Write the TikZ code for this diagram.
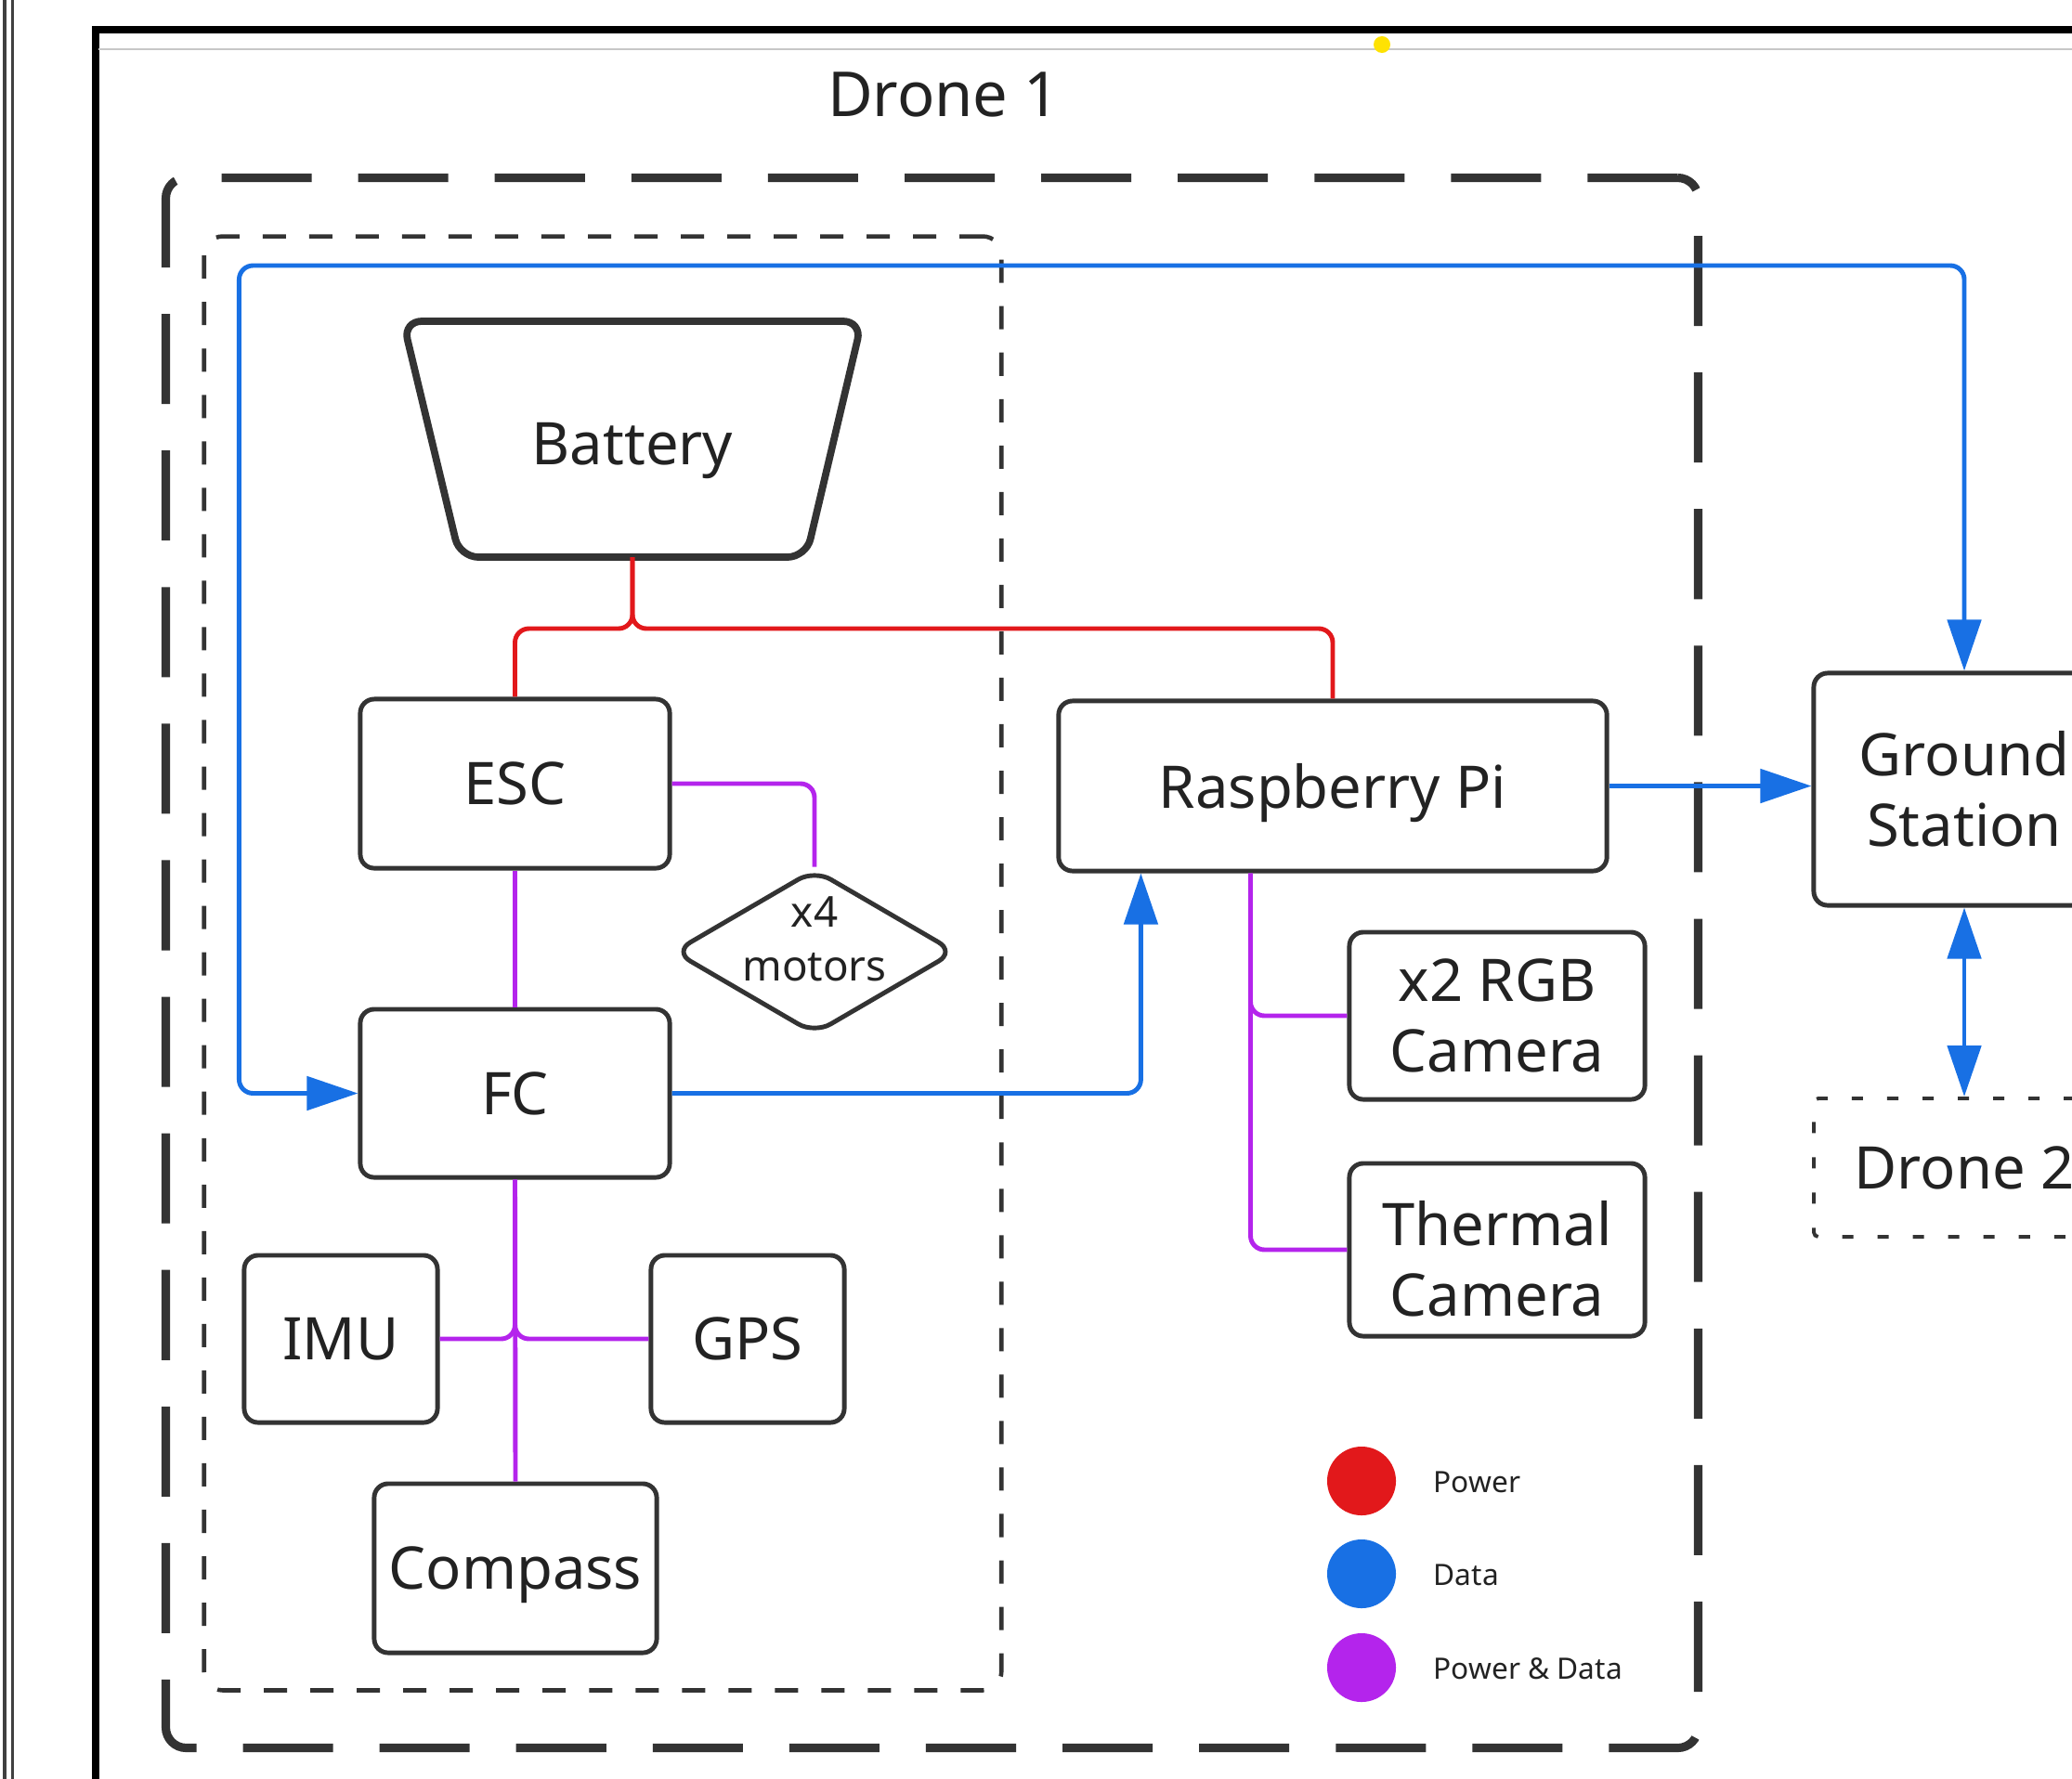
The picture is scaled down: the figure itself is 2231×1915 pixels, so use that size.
\documentclass[tikz,border=0pt]{standalone}
\usepackage{fontspec}
\setmainfont{Noto Sans}
\usetikzlibrary{shapes.geometric,arrows.meta}
\definecolor{pwr}{RGB}{226,24,27}
\definecolor{dat}{RGB}{24,112,228}
\definecolor{pdc}{RGB}{180,36,236}
\definecolor{edgec}{RGB}{51,51,51}
\definecolor{txt}{RGB}{34,34,34}
\tikzset{Tri/.tip={Triangle[length=5.5mm,width=3.6mm]}}
\begin{document}
\begin{tikzpicture}[x=0.01cm,y=-0.01cm,
  box/.style={draw=edgec, line width=1.4pt, rounded corners=0.15cm, inner sep=2pt, text=txt, font=\fontsize{18}{21.6}\selectfont, align=center},
  boxtext/.style={text=txt, font=\fontsize{18}{21.6}\selectfont, align=center, inner sep=0pt},
  wire/.style={line width=1.4pt, rounded corners=0.15cm},
  pw/.style={wire, draw=pwr},
  dt/.style={wire, draw=dat},
  pd/.style={wire, draw=pdc},
  outerbox/.style={draw=edgec, line width=2.6pt, rounded corners=0.22cm, dash pattern=on 0.97cm off 0.5cm},
  innerbox/.style={draw=edgec, line width=1.3pt, rounded corners=0.2cm, dash pattern=on 0.25cm off 0.25cm},
  legdot/.style={circle, inner sep=0pt, minimum size=0.74cm},
  legtxt/.style={anchor=west, text=txt, font=\fontsize{9}{11}\selectfont, inner sep=0pt}
]
\useasboundingbox (0,0) rectangle (2231,1915);
\clip (0,0) rectangle (2231,1915);
\fill[white] (0,0) rectangle (2231,1915);

% window chrome
\draw[line width=1.4pt, draw=black!75] (5,-10) -- (5,1930);
\draw[line width=0.9pt, draw=black!75] (13.5,-10) -- (13.5,1930);
\draw[line width=2pt, black] (103,1930) -- (103,32) -- (2240,32);
\draw[line width=0.35pt, draw=black!22] (106,53) -- (2240,53);
\fill[yellow!85!orange] (1488,48) circle [radius=0.09cm];

% title
\node[anchor=base, text=txt, font=\fontsize{19}{22}\selectfont] (title) at (1016,125) {Drone 1};

% group frames
\node[outerbox, minimum width=16.49cm, minimum height=16.9cm] (drone1) at (1003.5,1037) {};
\node[innerbox, minimum width=8.58cm, minimum height=15.65cm] (fcgroup) at (649,1037.5) {};

% battery (inverted trapezium)
\draw[draw=edgec, line width=2.2pt, rounded corners=0.2cm] (434,346) -- (928,346) -- (868,600) -- (495,600) -- cycle;
\node[boxtext, text depth=0pt] (battery) at (681,478) {Battery};
\coordinate (batbot) at (681,600);

% nodes
\node[box, minimum width=3.33cm, minimum height=1.82cm] (esc) at (554.5,844) {ESC};
\node[box, minimum width=3.33cm, minimum height=1.81cm] (fc) at (554.5,1177.5) {FC};
\node[box, minimum width=2.08cm, minimum height=1.8cm] (imu) at (367,1442) {IMU};
\node[box, minimum width=2.08cm, minimum height=1.8cm] (gps) at (805,1442) {GPS};
\node[box, minimum width=3.04cm, minimum height=1.82cm, text depth=0pt] (compass) at (555,1689) {Compass};
\node[diamond, draw=edgec, line width=1.4pt, rounded corners=0.2cm, aspect=1.71, inner sep=0pt,
      minimum width=3.04cm, minimum height=1.78cm] (motors) at (877,1025) {};
\node[text=txt, font=\fontsize{13}{16.5}\selectfont, align=center, inner sep=0pt] (motorstxt) at (877,1011) {x4\\motors};
\node[box, minimum width=5.9cm, minimum height=1.83cm, text depth=0pt] (rpi) at (1435,846.5) {Raspberry Pi};
\node[box, minimum width=3.18cm, minimum height=1.8cm] (rgb) at (1612,1094) {x2 RGB\\Camera};
\node[box, minimum width=3.18cm, minimum height=1.86cm] (thermal) at (1612,1346) {};
\node[boxtext] (thermaltxt) at (1612,1356) {Thermal\\Camera};
\node[box, minimum width=3.24cm, minimum height=2.5cm] (gs) at (2115,850) {Ground\\Station};
\node[box, rounded corners=0.05cm, line width=1.1pt, dash pattern=on 0.12cm off 0.26cm,
      minimum width=3.24cm, minimum height=1.49cm] (drone2) at (2115,1257.5) {Drone 2};

% power
\draw[pw] (batbot) -- ++(0,77) -| (esc.north);
\draw[pw] (batbot) -- ++(0,77) -| (rpi.north);

% power & data
\draw[pd] (esc.east) -| (motors.north);
\draw[pd] (esc.south) -- (fc.north);
\draw[pd] (fc.south) -- (compass.north);
\draw[pd] (imu.east) -| (fc.south);
\draw[pd] (gps.west) -| (fc.south);
\draw[pd] ([xshift=2.09cm]rpi.south west) |- (rgb.west);
\draw[pd] ([xshift=2.09cm]rpi.south west) |- (thermal.west);

% data
\coordinate (toprail) at (0,286);
\draw[dt, Tri-Tri] (fc.west) -- ++(-128,0) |- (gs.north |- toprail) -- (gs.north);
\draw[dt, -Tri] (fc.east) -| ([xshift=0.91cm]rpi.south west);
\draw[dt, -Tri] (rpi.east) -- (gs.west |- rpi.east);
\draw[dt, Tri-Tri] (gs.south) -- (drone2.north);

% legend
\node[legdot, fill=pwr] (lgp) at (1466,1595) {};
\node[legdot, fill=dat] (lgd) at (1466,1695) {};
\node[legdot, fill=pdc] (lgpd) at (1466,1796) {};
\node[legtxt] (lgpt) at (1543,1596) {Power};
\node[legtxt] (lgdt) at (1543,1696) {Data};
\node[legtxt] (lgpdt) at (1543,1797) {Power \& Data};
\end{tikzpicture}
\end{document}
